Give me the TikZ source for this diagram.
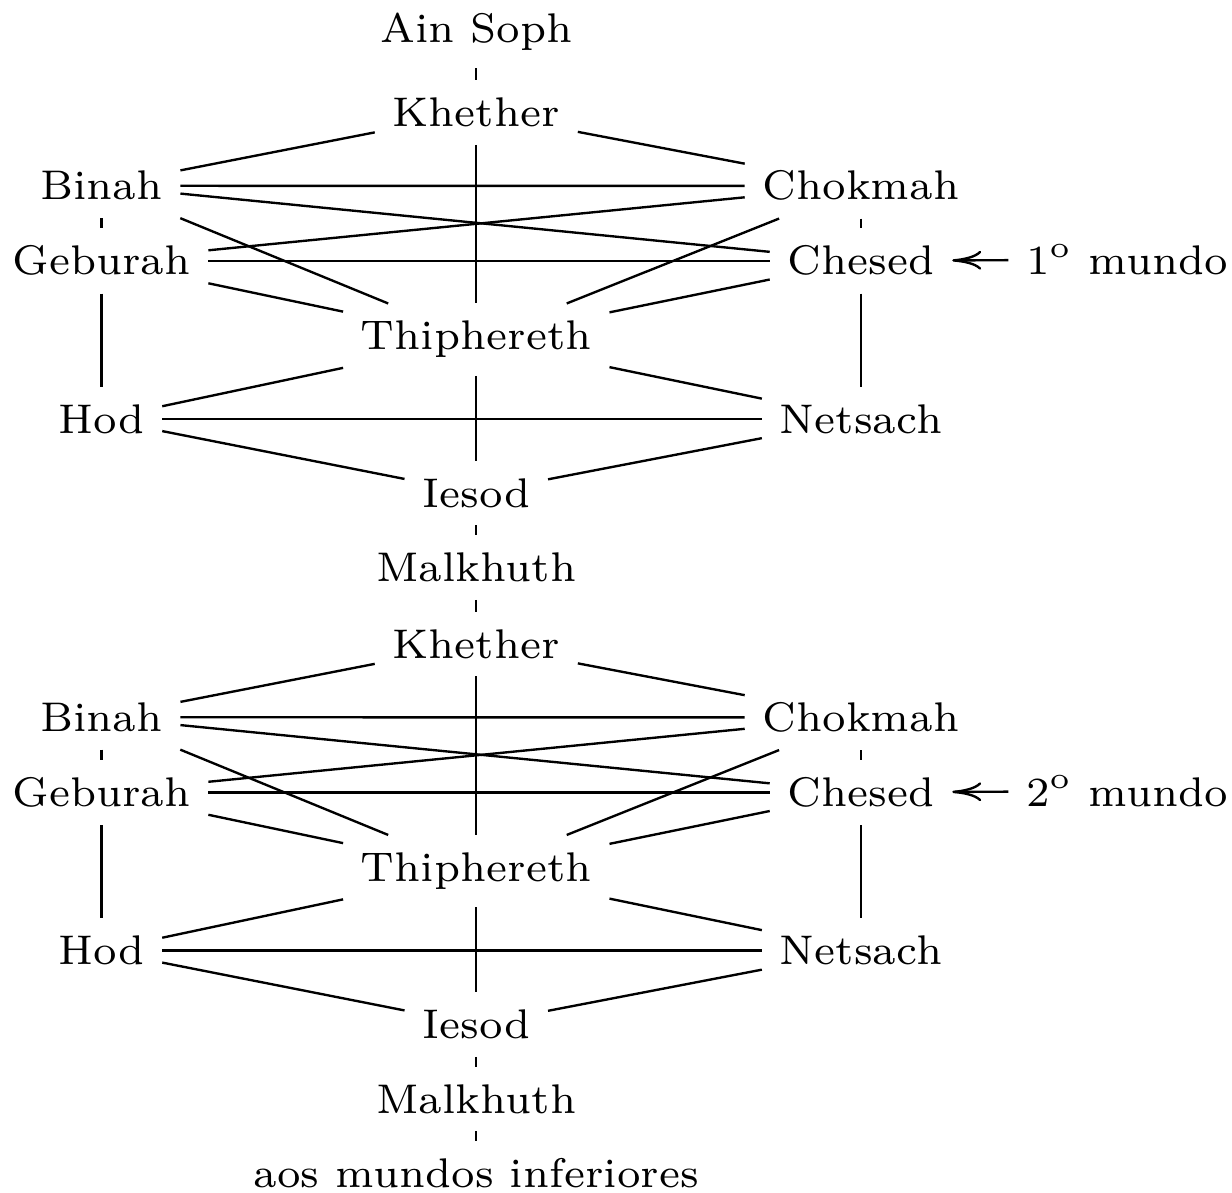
\documentclass[tikz,border=0pt]{standalone}
\usetikzlibrary{arrows.meta}
\begin{document}
\begin{tikzpicture}[x=0.16892pt,y=-0.16892pt,
  sefira/.style={anchor=base,inner sep=3pt,outer sep=0pt,font=\fontsize{7}{8.4}\selectfont},
  link/.style={line width=0.4pt},
  pointer/.style={link,-{Computer Modern Rightarrow[length=4.9pt,width=3.2pt]}}]
\useasboundingbox (0,0) rectangle (1232,1193);

\node[sefira] (ain) at (476.3,42.7) {Ain Soph};

% two worlds, the second one shifted down
\foreach \w/\o in {1/0,2/531.5}{
  \node[sefira] (k\w)   at (476.3,126.7+\o) {Khether};
  \node[sefira] (bin\w) at (101.5,200+\o)   {Binah};
  \node[sefira] (cho\w) at (861,200+\o)     {Chokmah};
  \node[sefira] (geb\w) at (101.5,275+\o)   {Geburah};
  \node[sefira] (che\w) at (861,275+\o)     {Chesed};
  \node[sefira] (mun\w) at (1127.2,275+\o)  {\w\textsuperscript{o} mundo};
  \node[sefira] (tip\w) at (476.3,350+\o)   {Thiphereth};
  \node[sefira] (hod\w) at (101.5,433.3+\o) {Hod};
  \node[sefira] (net\w) at (861,433.3+\o)   {Netsach};
  \node[sefira] (ies\w) at (476.3,507.3+\o) {Iesod};
  \node[sefira] (mal\w) at (476.3,581.7+\o) {Malkhuth};

  \draw[link] (k\w) -- (bin\w);
  \draw[link] (k\w) -- (cho\w);
  \draw[link] (k\w) -- (tip\w);
  \draw[link] (bin\w) -- (cho\w);
  \draw[link] (bin\w) -- (che\w);
  \draw[link] (bin\w) -- (geb\w);
  \draw[link] (bin\w) -- (tip\w);
  \draw[link] (cho\w) -- (geb\w);
  \draw[link] (cho\w) -- (che\w);
  \draw[link] (cho\w) -- (tip\w);
  \draw[link] (geb\w) -- (che\w);
  \draw[link] (geb\w) -- (tip\w);
  \draw[link] (geb\w) -- (hod\w);
  \draw[link] (che\w) -- (tip\w);
  \draw[link] (che\w) -- (net\w);
  \draw[link] (tip\w) -- (hod\w);
  \draw[link] (tip\w) -- (net\w);
  \draw[link] (tip\w) -- (ies\w);
  \draw[link] (hod\w) -- (net\w);
  \draw[link] (hod\w) -- (ies\w);
  \draw[link] (net\w) -- (ies\w);
  \draw[link] (ies\w) -- (mal\w);
  \draw[pointer] (mun\w) -- (che\w);
}

\node[sefira] (aos) at (476.3,1188) {aos mundos inferiores};

\draw[link] (ain) -- (k1);
\draw[link] (mal1) -- (k2);
\draw[link] (mal2) -- (aos);
\end{tikzpicture}
\end{document}
